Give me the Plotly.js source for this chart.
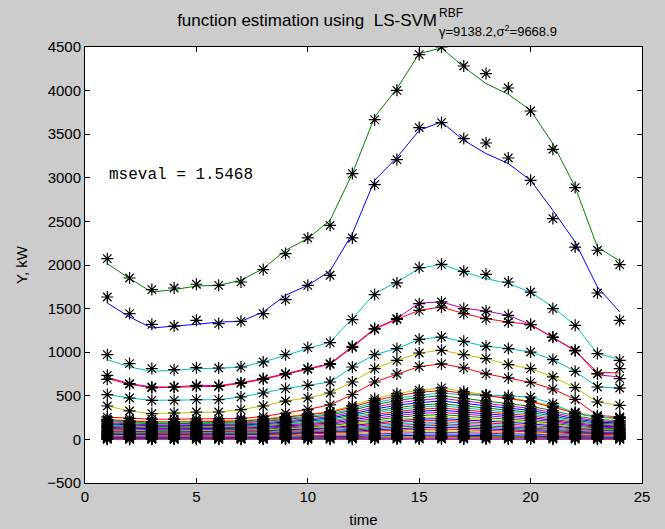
<!DOCTYPE html>
<html>
<head>
<meta charset="utf-8">
<script src="https://cdn.plot.ly/plotly-3.0.1.min.js"></script>
<style>html,body{margin:0;padding:0;background:#cccccc;}#chart{width:665px;height:529px;}</style>
</head>
<body>
<div id="chart"></div>
<script>
// ---- data ----
var time = [1,2,3,4,5,6,7,8,9,10,11,12,13,14,15,16,17,18,19,20,21,22,23,24];

// measured samples (stars) and LS-SVM estimate (line) for the largest series
var greenData = [2073,1851,1718,1736,1779,1767,1805,1947,2131,2310,2455,3048,3667,4003,4413,4500,4282,4195,4030,3766,3327,2888,2169,2005];
var greenFit  = [2016,1844,1690,1718,1759,1767,1825,1959,2169,2303,2513,3048,3697,4023,4424,4489,4271,4080,3958,3774,3392,2894,2206,2046];
var blueData  = [1633,1443,1320,1300,1366,1328,1354,1443,1603,1767,1882,2310,2922,3209,3576,3633,3450,3399,3227,2971,2532,2206,1679,1366];
var blueFit   = [1564,1404,1278,1297,1320,1346,1354,1461,1653,1767,1931,2360,2971,3232,3545,3640,3430,3278,3163,2971,2627,2264,1748,1461];
var cyan1Data = [972,869,812,800,823,819,830,888,972,1053,1110,1374,1661,1794,1970,2008,1928,1893,1805,1690,1500,1308,984,907];
var cyan1Fit  = [915,830,781,792,812,815,830,888,964,1041,1117,1385,1672,1805,1959,2008,1920,1844,1787,1690,1518,1308,984,919];
var magentaData = [735,640,601,601,620,617,651,697,755,812,869,1068,1271,1385,1557,1576,1500,1472,1423,1317,1174,1022,755,697];
var magentaFit  = [712,640,601,601,620,617,651,697,755,812,869,1068,1271,1385,1565,1576,1505,1472,1423,1317,1174,1022,740,716];
var redData     = [689,632,592,597,609,609,643,689,747,804,861,1056,1263,1377,1480,1518,1443,1385,1346,1317,1171,1016,752,812];
var redFit      = [700,632,592,597,609,609,643,689,747,804,861,1056,1263,1377,1480,1518,1443,1385,1346,1317,1171,1016,770,761];
var cyan2Data   = [514,475,448,448,456,456,486,532,583,620,658,830,972,1041,1148,1174,1125,1068,1041,1002,915,781,601,589];
var yellowData  = [383,326,296,303,314,314,342,383,440,475,532,658,812,907,991,1022,972,927,858,812,716,594,429,391];
var red3Data    = [255,240,232,232,234,235,240,262,300,345,395,515,658,750,836,866,820,752,705,654,578,460,275,258];

// the dense group of small series near zero
var c1  = [230,215,205,205,210,212,218,235,262,292,318,390,468,525,565,590,548,512,476,440,382,312,262,250];
var c2  = [224,208,198,198,202,204,210,226,255,285,310,372,445,500,540,560,530,500,470,430,370,300,255,242];
var c3  = [215,198,188,188,192,193,198,214,240,268,292,352,420,470,508,530,512,505,500,486,410,296,257,240];
var c4  = [205,190,180,180,184,185,190,205,228,255,278,335,398,446,480,500,468,438,410,380,330,270,228,215];
var c5  = [190,176,166,166,170,171,175,190,212,238,260,312,372,418,450,470,440,412,384,355,308,250,212,200];
var c6  = [178,165,156,156,159,160,164,178,200,224,245,292,348,392,422,440,412,385,358,332,288,234,198,188];
var c7  = [168,156,148,148,151,152,156,168,188,210,230,275,325,365,393,410,384,358,334,310,268,218,185,176];
var c8  = [158,146,138,138,141,142,146,158,176,196,214,256,305,343,370,385,360,336,314,290,251,204,174,165];
var c9  = [148,137,130,130,132,133,137,148,165,184,200,240,285,320,346,360,336,314,293,271,234,191,163,154];
var c10 = [138,128,121,121,123,124,128,138,154,171,186,222,265,298,322,335,313,292,272,252,218,177,151,143];
var c11 = [128,118,112,112,114,115,118,128,142,158,172,206,245,276,298,310,290,270,252,233,202,164,140,132];
var c12 = [118,109,103,103,105,106,109,118,131,146,158,190,226,254,274,285,266,248,232,214,186,151,129,122];
var c13 = [108,99,94,94,96,97,99,107,119,133,144,173,206,232,250,260,243,226,211,195,169,138,117,111];
var c14 = [98,91,86,86,88,88,91,98,109,122,132,159,190,214,231,240,224,209,195,180,156,127,108,102];
var c15 = [90,83,79,79,80,81,83,90,100,112,121,146,174,196,211,220,205,191,178,165,143,117,99,94];
var c16 = [82,76,71,71,73,74,76,82,91,101,110,132,158,178,192,200,186,174,162,150,130,106,90,85];
var c17 = [73,68,64,64,65,66,68,73,82,91,99,119,142,160,173,180,168,156,146,135,117,95,81,77];
var c18 = [65,60,57,57,58,59,60,65,73,81,88,106,126,142,154,160,149,139,130,120,104,85,72,68];
var c19 = [57,53,50,50,51,51,53,57,64,71,77,92,110,124,134,140,130,122,113,105,91,74,63,60];
var c20 = [49,45,43,43,44,44,45,49,55,61,66,79,95,107,115,120,112,104,97,90,78,64,54,52];
var c21 = [41,38,36,36,37,37,38,41,46,51,55,66,79,89,96,100,93,87,81,75,65,53,45,43];
var c22 = [33,31,29,29,30,30,31,33,37,41,45,54,65,73,79,82,76,71,66,62,53,44,37,35];
var c23 = [26,24,23,23,24,24,24,26,29,33,35,43,51,58,62,65,60,56,53,49,42,35,29,28];
var c24 = [20,19,18,18,18,18,19,20,23,25,27,33,40,45,48,50,47,44,41,38,33,27,23,22];
var c25 = [15,14,13,13,13,13,14,15,16,18,20,24,28,32,35,36,34,31,29,27,23,19,16,15];
var c26 = [10,9,9,9,9,9,9,10,11,12,13,16,19,21,23,24,22,21,19,18,16,13,11,10];
var c27 = [5,5,4,4,4,4,5,5,6,6,7,8,9,11,12,12,11,10,10,9,8,6,5,5];
var c28 = [2,2,2,2,2,2,2,2,2,3,3,3,4,4,5,5,5,4,4,4,3,3,2,2];

// ---- series table: [samples, estimate, colour] ----
var G = '#008000', B = '#0000ff', R = '#ff0000', C = '#00bfbf', M = '#bf00bf', Y = '#bfbf00', K = '#404040';
var series = [
  [greenData, greenFit, G], [blueData, blueFit, B], [cyan1Data, cyan1Fit, C],
  [magentaData, magentaFit, M], [redData, redFit, R], [cyan2Data, cyan2Data, C],
  [yellowData, yellowData, Y], [red3Data, red3Data, R],
  [c1, c1, Y], [c2, c2, R], [c3, c3, C], [c4, c4, G], [c5, c5, M], [c6, c6, B], [c7, c7, G],
  [c8, c8, C], [c9, c9, R], [c10, c10, B], [c11, c11, M], [c12, c12, G], [c13, c13, Y], [c14, c14, B],
  [c15, c15, R], [c16, c16, C], [c17, c17, M], [c18, c18, G], [c19, c19, B], [c20, c20, R],
  [c21, c21, Y], [c22, c22, M], [c23, c23, C], [c24, c24, B], [c25, c25, R], [c26, c26, G],
  [c27, c27, K], [c28, c28, M]
];

var traces = [];
series.forEach(function (s) {
  traces.push({x: time, y: s[1], type: 'scatter', mode: 'lines',
    line: {color: s[2], width: 1}, hoverinfo: 'skip', showlegend: false});
});
series.forEach(function (s) {
  traces.push({x: time, y: s[0], type: 'scatter', mode: 'markers',
    marker: {symbol: 'asterisk-open', size: 10, color: '#000000', line: {color: '#000000', width: 1.2}},
    hoverinfo: 'skip', showlegend: false});
});

var tickFont = {family: 'Liberation Sans, Arial, sans-serif', size: 15, color: '#000000'};
var axisCommon = {
  showline: true, linecolor: '#000000', linewidth: 1, mirror: 'ticks',
  ticks: 'inside', ticklen: 5, tickcolor: '#000000', tickwidth: 1,
  showgrid: false, zeroline: false, tickfont: tickFont, fixedrange: true
};

var layout = {
  width: 665, height: 529,
  paper_bgcolor: '#cccccc', plot_bgcolor: '#ffffff',
  margin: {l: 85, r: 23, t: 47, b: 46, pad: 0},
  showlegend: false,
  title: {
    text: 'function estimation using\u00a0\u00a0LS-SVM',
    font: {family: 'Liberation Sans, Arial, sans-serif', size: 17, color: '#000000'},
    xref: 'container', x: 437 / 665, xanchor: 'right',
    yref: 'container', y: 1 - 20 / 529, yanchor: 'middle'
  },
  xaxis: Object.assign({}, axisCommon, {
    range: [0, 25], tickvals: [0, 5, 10, 15, 20, 25],
    title: {text: 'time', font: tickFont, standoff: 10}
  }),
  yaxis: Object.assign({}, axisCommon, {
    range: [-500, 4500], tickvals: [-500, 0, 500, 1000, 1500, 2000, 2500, 3000, 3500, 4000, 4500],
    title: {text: 'Y, kW', font: tickFont, standoff: 15}
  }),
  annotations: [
    {text: 'RBF', xref: 'paper', yref: 'paper', x: (437 - 85) / 557, y: (483 - 13) / 436,
     xanchor: 'left', yanchor: 'middle', showarrow: false,
     font: {family: 'Liberation Sans, Arial, sans-serif', size: 12, color: '#000000'}},
    {text: '\u03b3=9138.2,\u03c3<sup>2</sup>=9668.9', xref: 'paper', yref: 'paper',
     x: (437 - 85) / 557, y: (483 - 31) / 436,
     xanchor: 'left', yanchor: 'middle', showarrow: false,
     font: {family: 'Liberation Sans, Arial, sans-serif', size: 13, color: '#000000'}},
    {text: 'mseval = 1.5468', xref: 'x', yref: 'y', x: 1, y: 3000, yshift: 3,
     xanchor: 'left', yanchor: 'middle', showarrow: false,
     font: {family: 'Liberation Mono, Courier New, monospace', size: 16, color: '#000000'}}
  ]
};

Plotly.newPlot('chart', traces, layout, {displayModeBar: false, staticPlot: true});
</script>
</body>
</html>
